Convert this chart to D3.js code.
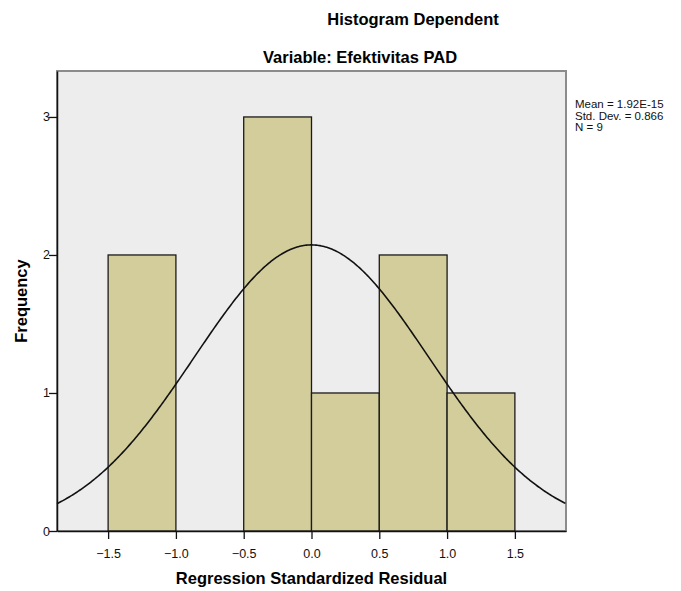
<!DOCTYPE html>
<html>
<head>
<meta charset="utf-8">
<script src="https://cdn.jsdelivr.net/npm/d3@7"></script>
<style>
  body { margin: 0; background: #fff; }
  text { font-family: "Liberation Sans", Arial, sans-serif; }
</style>
</head>
<body>
<div id="chart-area"></div>
<script>
// histogram bins (lower edge, upper edge) and counts
const binStart = [-1.5, -1.0, -0.5, 0.0, 0.5, 1.0];
const binEnd   = [-1.0, -0.5, 0.0, 0.5, 1.0, 1.5];
const counts   = [2, 0, 3, 1, 2, 1];
const xTicks = [-1.5, -1.0, -0.5, 0.0, 0.5, 1.0, 1.5];
const yTicks = [0, 1, 2, 3];
const statMean = 1.92e-15;
const statSd = 0.866;
const statN = 9;
const statLines = ["Mean = 1.92E-15", "Std. Dev. = 0.866", "N = 9"];

const width = 681;
const height = 591;

const svg = d3.select("#chart-area")
    .append("svg")
    .attr("width", width)
    .attr("height", height);

// plot area
const pLeft = 57, pRight = 566, pTop = 71, pBottom = 531;

const x = d3.scaleLinear().domain([-1.877, 1.877]).range([pLeft, pRight]);
const y = d3.scaleLinear().domain([0, 3.333]).range([pBottom, pTop]);

svg.append("rect")
    .attr("x", pLeft).attr("y", pTop)
    .attr("width", pRight - pLeft).attr("height", pBottom - pTop)
    .attr("fill", "#ededed")
    .attr("stroke", "#8c8c8c")
    .attr("stroke-width", 2);

// bars
svg.selectAll(".bar")
    .data(counts.map((c, i) => ({ x0: binStart[i], x1: binEnd[i], c: c })).filter(d => d.c > 0))
    .enter()
    .append("rect")
    .attr("class", "bar")
    .attr("x", d => x(d.x0))
    .attr("y", d => y(d.c))
    .attr("width", d => x(d.x1) - x(d.x0))
    .attr("height", d => y(0) - y(d.c))
    .attr("fill", "#d3cd9b")
    .attr("stroke", "#1a1a1a")
    .attr("stroke-width", 1.3);

// normal curve from mean / sd / n
const bw = 0.5;
const pts = d3.range(-1.877, 1.8771, 0.01).map(v => {
    const z = (v - statMean) / statSd;
    return [v, statN * bw * Math.exp(-0.5 * z * z) / (statSd * Math.sqrt(2 * Math.PI))];
});
svg.append("path")
    .datum(pts)
    .attr("fill", "none")
    .attr("stroke", "#111")
    .attr("stroke-width", 1.6)
    .attr("d", d3.line().x(d => x(d[0])).y(d => y(d[1])));

// axes
const xAxis = svg.append("g")
    .attr("transform", `translate(0,${pBottom})`)
    .call(d3.axisBottom(x).tickValues(xTicks).tickFormat(d3.format(".1f")).tickSize(8).tickSizeOuter(0));
const yAxis = svg.append("g")
    .attr("transform", `translate(${pLeft},0)`)
    .call(d3.axisLeft(y).tickValues(yTicks).tickFormat(d3.format("d")).tickSize(8).tickSizeOuter(0));

[xAxis, yAxis].forEach(g => {
    g.select(".domain").attr("stroke", "#111").attr("stroke-width", 1.5);
    g.selectAll(".tick line").attr("stroke", "#111").attr("stroke-width", 1.3);
    g.selectAll(".tick text")
        .attr("fill", "#111")
        .style("font-family", "'Liberation Sans', Arial, sans-serif")
        .style("font-size", "12.5px");
});
xAxis.selectAll(".tick text").attr("dy", "1.25em");
yAxis.selectAll(".tick text").attr("x", -7);

// titles
svg.append("text")
    .attr("x", 413).attr("y", 25)
    .attr("text-anchor", "middle")
    .style("font-size", "16.5px").style("font-weight", "bold")
    .text("Histogram Dependent");
svg.append("text")
    .attr("x", 360).attr("y", 63)
    .attr("text-anchor", "middle")
    .style("font-size", "16.5px").style("font-weight", "bold")
    .text("Variable: Efektivitas PAD");

svg.append("text")
    .attr("x", (pLeft + pRight) / 2).attr("y", 584)
    .attr("text-anchor", "middle")
    .style("font-size", "16.5px").style("font-weight", "bold")
    .text("Regression Standardized Residual");

svg.append("text")
    .attr("transform", `translate(27,${(pTop + pBottom) / 2}) rotate(-90)`)
    .attr("text-anchor", "middle")
    .style("font-size", "16.5px").style("font-weight", "bold")
    .text("Frequency");

// stats
svg.selectAll(".stat")
    .data(statLines)
    .enter()
    .append("text")
    .attr("class", "stat")
    .attr("x", 575)
    .attr("y", (d, i) => 108 + i * 11.5)
    .style("font-size", "11.5px")
    .attr("fill", "#111")
    .text(d => d);
</script>
</body>
</html>
